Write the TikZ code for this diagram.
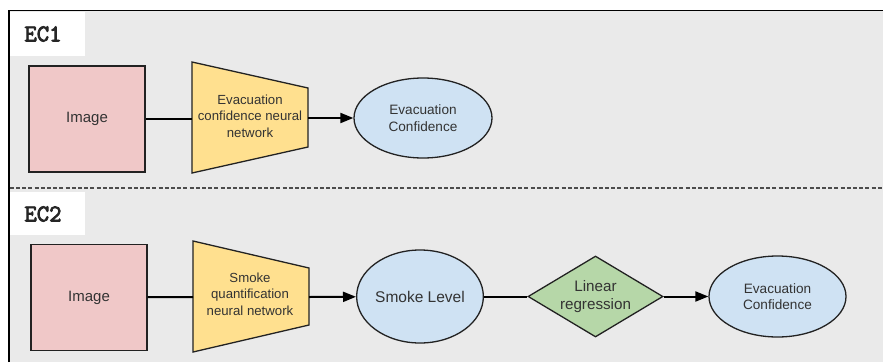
\documentclass[tikz,border=0pt]{standalone}
\usepackage{fontspec}
\setmainfont{Liberation Sans}
\newfontfamily\ecmono[FakeBold=3.5]{Latin Modern Mono}
\usetikzlibrary{shapes.geometric,arrows.meta}
\definecolor{panelbg}{HTML}{EAEAEA}
\definecolor{pinkfill}{HTML}{F0C8C8}
\definecolor{yellowfill}{HTML}{FFE08F}
\definecolor{bluefill}{HTML}{CFE2F3}
\definecolor{greenfill}{HTML}{B6D7A8}
\definecolor{txt}{HTML}{333333}
\definecolor{edge}{HTML}{222222}
\begin{document}
\begin{tikzpicture}[x=1pt,y=-1pt,
  imgbox/.style={rectangle,draw=edge,line width=1.3pt,fill=pinkfill,minimum width=116pt,minimum height=106pt,inner sep=0pt,text=txt,font=\fontsize{15}{18}\selectfont},
  ellbox/.style={ellipse,draw=edge,line width=1.3pt,fill=bluefill,inner sep=0pt,text=txt,align=center},
  diabox/.style={diamond,draw=edge,line width=1.3pt,fill=greenfill,inner sep=0pt,aspect=1.67,minimum width=135pt,minimum height=81pt,text=txt,align=center,font=\fontsize{15.2}{18.5}\selectfont},
  trapshape/.style={draw=edge,line width=1.3pt,fill=yellowfill,line join=miter},
  traptext/.style={text=txt,align=center,font=\fontsize{13.2}{16.3}\selectfont,inner sep=0pt},
  eclabel/.style={font=\ecmono\fontsize{24}{26}\selectfont,text=black!85,inner sep=0pt},
  conn/.style={draw=black,line width=2pt},
  arr/.style={conn,-{Triangle[length=13pt,width=10pt]}}
]
\useasboundingbox (0,0) rectangle (883,362);
\fill[white] (0,0) rectangle (883,362);
\fill[panelbg] (9,10.5) rectangle (883,362);
\draw[line width=1.6pt,black] (9,362) -- (9,10.5) -- (883,10.5);
\draw[line width=2pt,color=black!70,dash pattern=on 4pt off 2.2pt] (9.8,188) -- (883,188);
% label boxes
\fill[white] (10,11.5) rectangle (85,56);
\node[eclabel] (ec1) at (43,34) {EC1};
\fill[white] (10,192) rectangle (85,235);
\node[eclabel] (ec2) at (43,214) {EC2};

% ---------- EC1 ----------
\node[imgbox] (img1) at (87,119) {Image};
\draw[trapshape] (192,62) -- (308,88) -- (308,147) -- (192,173) -- cycle;
\coordinate (t1l) at (192,119);
\coordinate (t1r) at (308,118);
\node[traptext] (trap1) at (250,116) {Evacuation\\confidence neural\\network};
\node[ellbox,minimum width=138pt,minimum height=80pt,font=\fontsize{13.6}{16.7}\selectfont] (ell1) at (423,118) {Evacuation\\Confidence};
\draw[conn] (img1) -- (t1l);
\draw[arr] (t1r) -- (ell1);

% ---------- EC2 ----------
\node[imgbox] (img2) at (89,297.5) {Image};
\draw[trapshape] (193,241) -- (309,268) -- (309,325) -- (193,352) -- cycle;
\coordinate (t2l) at (193,297);
\coordinate (t2r) at (309,297);
\node[traptext] (trap2) at (250,294) {Smoke\\quantification\\neural network};
\node[ellbox,minimum width=126pt,minimum height=93pt,font=\fontsize{15.5}{18}\selectfont] (ell2) at (420,296.5) {Smoke Level};
\node[diabox] (dia) at (595.5,296.5) {Linear\\regression};
\node[ellbox,minimum width=137pt,minimum height=81pt,font=\fontsize{13.6}{16.7}\selectfont] (ell3) at (777.5,296.5) {Evacuation\\Confidence};
\draw[conn] (img2) -- (t2l);
\draw[arr] (t2r) -- (ell2);
\draw[conn] (ell2) -- (dia);
\draw[arr] (dia) -- (ell3);
\end{tikzpicture}
\end{document}
